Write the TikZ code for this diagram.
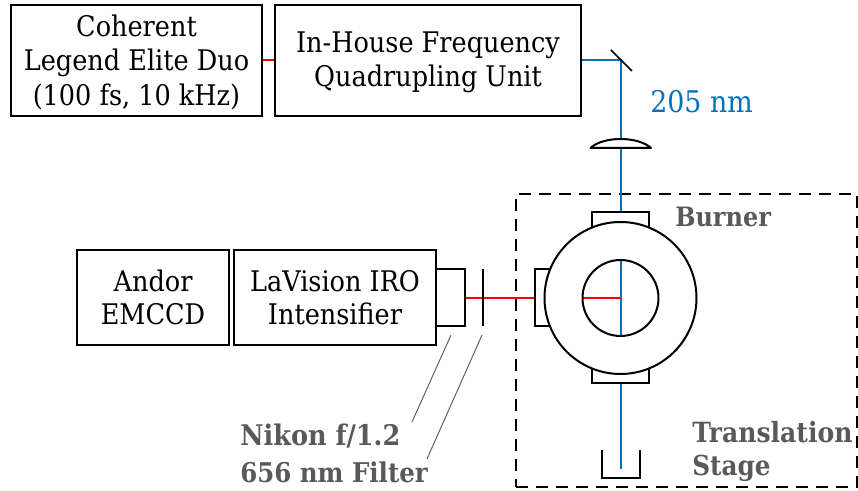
\documentclass[tikz,border=0pt]{standalone}
\usepackage{fontspec}
\setmainfont{DejaVu Serif Condensed}
\definecolor{beamblue}{RGB}{0,114,189}
\definecolor{labelgray}{RGB}{89,89,89}
\newcommand{\lowerline}{\rule{0pt}{18.5pt}}
\begin{document}
\begin{tikzpicture}[x=0.75pt,y=-0.75pt,
  boxnode/.style={draw=black,line width=1.5pt,fill=white,align=center,inner sep=0pt,font=\fontsize{21.3}{25.8}\selectfont,anchor=north west},
  part/.style={draw=black,line width=1.5pt,fill=white},
  ring/.style={draw=black,line width=1.5pt,circle,inner sep=0pt,minimum size=#1},
  uvbeam/.style={draw=beamblue,line width=1.5pt},
  redbeam/.style={draw=red,line width=1.5pt},
  grayhead/.style={text=labelgray,font=\fontsize{20.6}{25.5}\selectfont\bfseries,inner sep=0pt},
  leader/.style={draw=labelgray,line width=0.7pt}]
\useasboundingbox (0,0) rectangle (858,491);
% boxes
\node[boxnode,minimum width=188.25pt,minimum height=83.25pt] (laser) at (10,4) {\lowerline Coherent\\Legend Elite Duo\\(100 fs, 10 kHz)};
\node[boxnode,minimum width=229.5pt,minimum height=83.25pt] (quad) at (274,4) {\lowerline In-House Frequency\\Quadrupling Unit};
\node[boxnode,minimum width=114pt,minimum height=71.25pt] (andor) at (76,249) {Andor\\[-1.5pt]EMCCD};
\node[boxnode,minimum width=151.5pt,minimum height=71.25pt] (iro) at (233,249) {LaVision IRO\\[-1.5pt]Intensifier};
% stage
\node[draw=black,line width=1.5pt,dash pattern=on 9pt off 6pt,minimum width=255.75pt,minimum height=219.75pt,inner sep=0pt,anchor=north west] (stage) at (515,193) {};
% named points
\coordinate (mirror) at (620.5,60);
\coordinate (center) at (620.5,298);
\coordinate (dumpin) at (620.5,469);
\coordinate (lenscam) at (465,298);
% beams
\draw[redbeam] (laser.east |- 0,60) -- (quad.west |- 0,60);
\draw[uvbeam] (quad.east |- mirror) -- (mirror) -- (center);
\draw[uvbeam] (center) -- (dumpin);
\draw[redbeam] (lenscam) -- (center);
% mirror
\draw[line width=1.2pt] (611,50) -- (632,71);
% focusing lens
\draw[part,line join=round] (590.5,148) .. controls (603,136) and (638,136) .. (651,148) -- cycle;
% burner tabs
\draw[part] (592,235) -- (592,212) -- (649,212) -- (649,235);
\draw[part] (592,360) -- (592,383) -- (649,383) -- (649,360);
\draw[part] (560,269) -- (535,269) -- (535,326) -- (560,326);
% burner
\node[ring=114pt,fill=white] (outer) at (center) {};
\begin{scope}
\clip (center) circle (38);
\draw[uvbeam] (620.5,250) -- (620.5,345);
\draw[redbeam] (575,298) -- (center);
\end{scope}
\node[ring=57pt] (inner) at (center) {};
% camera lens and filter
\node[part,inner sep=0pt,minimum width=21.75pt,minimum height=42.75pt,anchor=north west] (camlens) at (435,268) {};
\coordinate (filtt) at (483,269);
\coordinate (filtb) at (483,326);
\draw[line width=1.2pt] (filtt) -- (filtb);
% beam dump
\draw[line width=1.5pt] (602,450) -- (602,478) -- (640,478) -- (640,450);
% leaders
\coordinate (l1a) at (451,335); \coordinate (l1b) at (412,422);
\coordinate (l2a) at (482,335); \coordinate (l2b) at (427,459);
\draw[leader] (l1a) -- (l1b);
\draw[leader] (l2a) -- (l2b);
% labels
\node[text=beamblue,font=\fontsize{22.4}{24}\selectfont,anchor=base west,inner sep=0pt] (nm) at (650,112.5) {205 nm};
\node[grayhead,font=\fontsize{20}{24}\selectfont\bfseries,anchor=base west] (burner) at (675,226.5) {Burner};
\node[grayhead,font=\fontsize{20.9}{24}\selectfont\bfseries,anchor=base west] (trans) at (692,443) {Translation};
\node[grayhead,anchor=base west] (stg) at (692,476) {Stage};
\node[grayhead,font=\fontsize{21.3}{24}\selectfont\bfseries,anchor=base west] (nikon) at (240,446) {Nikon f/1.2};
\node[grayhead,font=\fontsize{20.4}{24}\selectfont\bfseries,anchor=base west] (filt) at (240,483) {656 nm Filter};
\end{tikzpicture}
\end{document}
